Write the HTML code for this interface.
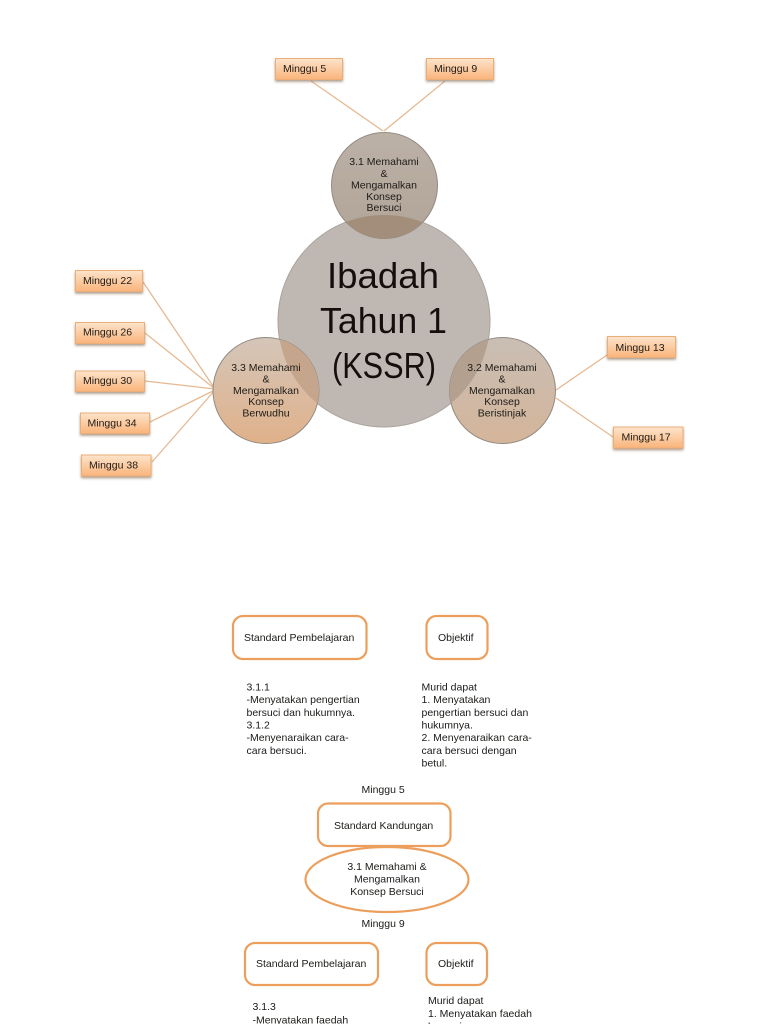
<!DOCTYPE html>
<html>
<head>
<meta charset="utf-8">
<style>
html,body{margin:0;padding:0;background:#fff;width:768px;height:1024px;overflow:hidden}
svg{display:block}
text{font-family:"Liberation Sans",Arial,sans-serif;font-size:10.5px;fill:#1d1a18}
.b{font-size:36px;fill:#14110f;text-anchor:middle}
</style>
</head>
<body>
<svg width="768" height="1024" viewBox="0 0 768 1024" xmlns="http://www.w3.org/2000/svg">
<defs>
<linearGradient id="box" x1="0" y1="0" x2="0" y2="1">
<stop offset="0" stop-color="#fde4cb"/><stop offset="1" stop-color="#fab47a"/>
</linearGradient>
<linearGradient id="top" x1="0" y1="0" x2="0" y2="1">
<stop offset="0" stop-color="#bcb1a7"/><stop offset="1" stop-color="#b1a498"/>
</linearGradient>
<linearGradient id="left" x1="0" y1="0" x2="0" y2="1">
<stop offset="0" stop-color="#d4c6b9"/><stop offset="1" stop-color="#e0b18a"/>
</linearGradient>
<linearGradient id="right" x1="0" y1="0" x2="0" y2="1">
<stop offset="0" stop-color="#c9beb4"/><stop offset="1" stop-color="#d4b59a"/>
</linearGradient>
<clipPath id="bigclip"><circle cx="384" cy="321" r="106"/></clipPath>
<filter id="sh" x="-20%" y="-30%" width="140%" height="170%">
<feDropShadow dx="0" dy="1.8" stdDeviation="1.3" flood-color="#7a5a40" flood-opacity=".6"/>
</filter>
<filter id="soft"><feGaussianBlur stdDeviation="0.35"/></filter>
</defs>

<g filter="url(#soft)">
<!-- connectors -->
<g stroke="#e6b992" stroke-width="1.300" fill="none">
<path d="M311 81L383 131M445 81L384 131"/>
<path d="M143 282L215 389M145 333L215 389M145 381L215 389M150 422L215 390M152 462L215 390"/>
<path d="M556 390L607 355M556 398L613 437"/>
</g>

<!-- circles -->
<circle cx="384" cy="321" r="106" fill="#bfb8b2" stroke="#aaa39d" stroke-width="1"/>
<g stroke="#938a82" stroke-width="1">
<circle cx="384.500" cy="185.500" r="53" fill="url(#top)"/>
<circle cx="266" cy="390.500" r="53" fill="url(#left)"/>
<circle cx="502.500" cy="390.500" r="53" fill="url(#right)"/>
</g>
<g clip-path="url(#bigclip)">
<circle cx="384.500" cy="185.500" r="53" fill="#a38e7c"/>
<circle cx="266" cy="390.500" r="53" fill="#c5a68d"/>
<circle cx="502.500" cy="390.500" r="53" fill="#b3a08f"/>
</g>

<!-- small boxes -->
<g fill="url(#box)" stroke="#ecae78" stroke-width="1" filter="url(#sh)">
<rect x="275.500" y="58.500" width="67" height="21"/>
<rect x="426.500" y="58.500" width="67" height="21"/>
<rect x="75.500" y="270.500" width="67" height="21"/>
<rect x="75.500" y="322.500" width="69" height="21"/>
<rect x="75.500" y="371" width="69" height="20.500"/>
<rect x="80.500" y="413" width="69" height="20.500"/>
<rect x="81.500" y="455" width="69.500" height="21"/>
<rect x="607.500" y="336.500" width="68" height="21"/>
<rect x="613.500" y="427" width="69.500" height="21"/>
</g>

<!-- rounded outlines -->
<g fill="#fff" stroke="#ec9f5c" stroke-width="2.200">
<rect x="233" y="616" width="133.500" height="43" rx="10"/>
<rect x="426.500" y="616" width="61" height="43" rx="10"/>
<rect x="318" y="803.500" width="132.500" height="42.500" rx="10"/>
<ellipse cx="387" cy="879.500" rx="81.500" ry="32.500"/>
<rect x="245" y="943" width="133" height="42" rx="10"/>
<rect x="426.500" y="943" width="60.500" height="42" rx="10"/>
</g>

<!-- central title -->
<text class="b" x="383" y="288" textLength="112" lengthAdjust="spacingAndGlyphs">Ibadah</text>
<text class="b" x="383.500" y="333" textLength="127" lengthAdjust="spacingAndGlyphs">Tahun 1</text>
<text class="b" x="384" y="378" textLength="104" lengthAdjust="spacingAndGlyphs">(KSSR)</text>

<!-- circle labels -->
<g text-anchor="middle">
<text x="384" y="165">3.1 Memahami</text>
<text x="384" y="177">&amp;</text>
<text x="384" y="188.500">Mengamalkan</text>
<text x="384" y="200">Konsep</text>
<text x="384" y="211">Bersuci</text>

<text x="266" y="371">3.3 Memahami</text>
<text x="266" y="382.500">&amp;</text>
<text x="266" y="394">Mengamalkan</text>
<text x="266" y="405">Konsep</text>
<text x="266" y="416.500">Berwudhu</text>

<text x="502" y="371">3.2 Memahami</text>
<text x="502" y="382.500">&amp;</text>
<text x="502" y="394">Mengamalkan</text>
<text x="502" y="405">Konsep</text>
<text x="502" y="416.500">Beristinjak</text>
</g>

<!-- box labels -->
<text x="283" y="72">Minggu 5</text>
<text x="434" y="72">Minggu 9</text>
<text x="83" y="284">Minggu 22</text>
<text x="83" y="335.500">Minggu 26</text>
<text x="83" y="384">Minggu 30</text>
<text x="87.500" y="426.500">Minggu 34</text>
<text x="89" y="468.500">Minggu 38</text>
<text x="615.500" y="351">Minggu 13</text>
<text x="621.500" y="440.500">Minggu 17</text>

<!-- lower labels -->
<text x="244" y="641">Standard Pembelajaran</text>
<text x="438" y="641">Objektif</text>

<text x="246.500" y="690.500">3.1.1</text>
<text x="246.500" y="703">-Menyatakan pengertian</text>
<text x="246.500" y="716">bersuci dan hukumnya.</text>
<text x="246.500" y="728.500">3.1.2</text>
<text x="246.500" y="741">-Menyenaraikan cara-</text>
<text x="246.500" y="754">cara bersuci.</text>

<text x="421.500" y="690.500">Murid dapat</text>
<text x="421.500" y="703">1. Menyatakan</text>
<text x="421.500" y="716">pengertian bersuci dan</text>
<text x="421.500" y="728.500">hukumnya.</text>
<text x="421.500" y="741">2. Menyenaraikan cara-</text>
<text x="421.500" y="754">cara bersuci dengan</text>
<text x="421.500" y="766.500">betul.</text>

<text x="361.500" y="793">Minggu 5</text>
<text x="334" y="829">Standard Kandungan</text>
<text x="387" y="870" text-anchor="middle">3.1 Memahami &amp;</text>
<text x="387" y="882.500" text-anchor="middle">Mengamalkan</text>
<text x="387" y="895" text-anchor="middle">Konsep Bersuci</text>
<text x="361.500" y="927">Minggu 9</text>

<text x="256" y="967">Standard Pembelajaran</text>
<text x="438" y="967">Objektif</text>

<text x="252.500" y="1010">3.1.3</text>
<text x="252.500" y="1023.500">-Menyatakan faedah</text>
<text x="428" y="1004">Murid dapat</text>
<text x="428" y="1017">1. Menyatakan faedah</text>
<text x="428" y="1030">bersuci.</text>
</g>
</svg>
</body>
</html>
